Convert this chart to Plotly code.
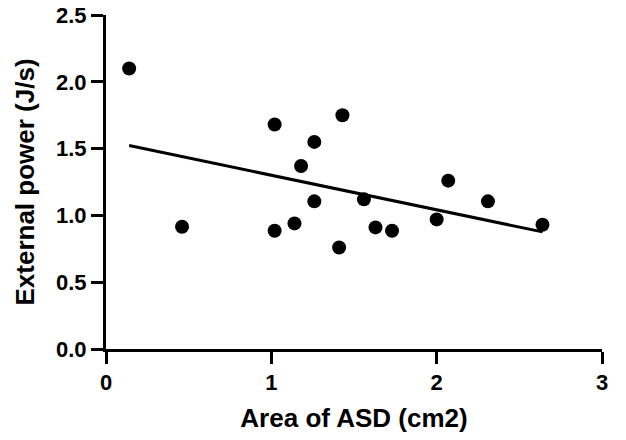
import numpy as np
import plotly.graph_objects as go

area_asd = [0.14, 0.46, 1.02, 1.02, 1.14, 1.18, 1.26, 1.26, 1.43, 1.41, 1.56, 1.63, 1.73, 2.00, 2.07, 2.31, 2.64]
ext_power = [2.10, 0.915, 1.68, 0.885, 0.94, 1.37, 1.55, 1.105, 1.75, 0.76, 1.12, 0.91, 0.885, 0.97, 1.26, 1.105, 0.93]
x_ticks = [0, 1, 2, 3]
y_ticks = [0.0, 0.5, 1.0, 1.5, 2.0, 2.5]

slope, intercept = np.polyfit(area_asd, ext_power, 1)
fx = np.array([min(area_asd), max(area_asd)])
fy = slope * fx + intercept

font = "Arial"

fig = go.Figure()
fig.add_trace(go.Scatter(x=fx, y=fy, mode="lines",
                         line=dict(color="black", width=3), showlegend=False))
fig.add_trace(go.Scatter(x=area_asd, y=ext_power, mode="markers",
                         marker=dict(color="black", size=14), showlegend=False))

axis_common = dict(showline=True, linewidth=3, linecolor="black", ticks="outside",
                   ticklen=12, tickwidth=3, tickcolor="black", showgrid=False, zeroline=False,
                   automargin=False,
                   tickfont=dict(family=font, size=22, color="black", weight="bold"))

fig.update_layout(
    width=626, height=440,
    margin=dict(l=106, r=24, t=15, b=91, autoexpand=False),
    plot_bgcolor="white", paper_bgcolor="white",
    xaxis=dict(range=[0, 3], tickvals=x_ticks, ticktext=[str(v) for v in x_ticks],
               title=dict(text="Area of ASD (cm2)",
                          font=dict(family=font, size=26, color="black", weight="bold"),
                          standoff=15), **axis_common),
    yaxis=dict(range=[0, 2.5], tickvals=y_ticks, ticktext=[f"{v:.1f}" for v in y_ticks],
               title=dict(text="External power (J/s)",
                          font=dict(family=font, size=26, color="black", weight="bold"),
                          standoff=14), **axis_common),
)

fig.write_html("out.html", config={"displayModeBar": False},
               post_script="document.body.style.margin='0px';")
